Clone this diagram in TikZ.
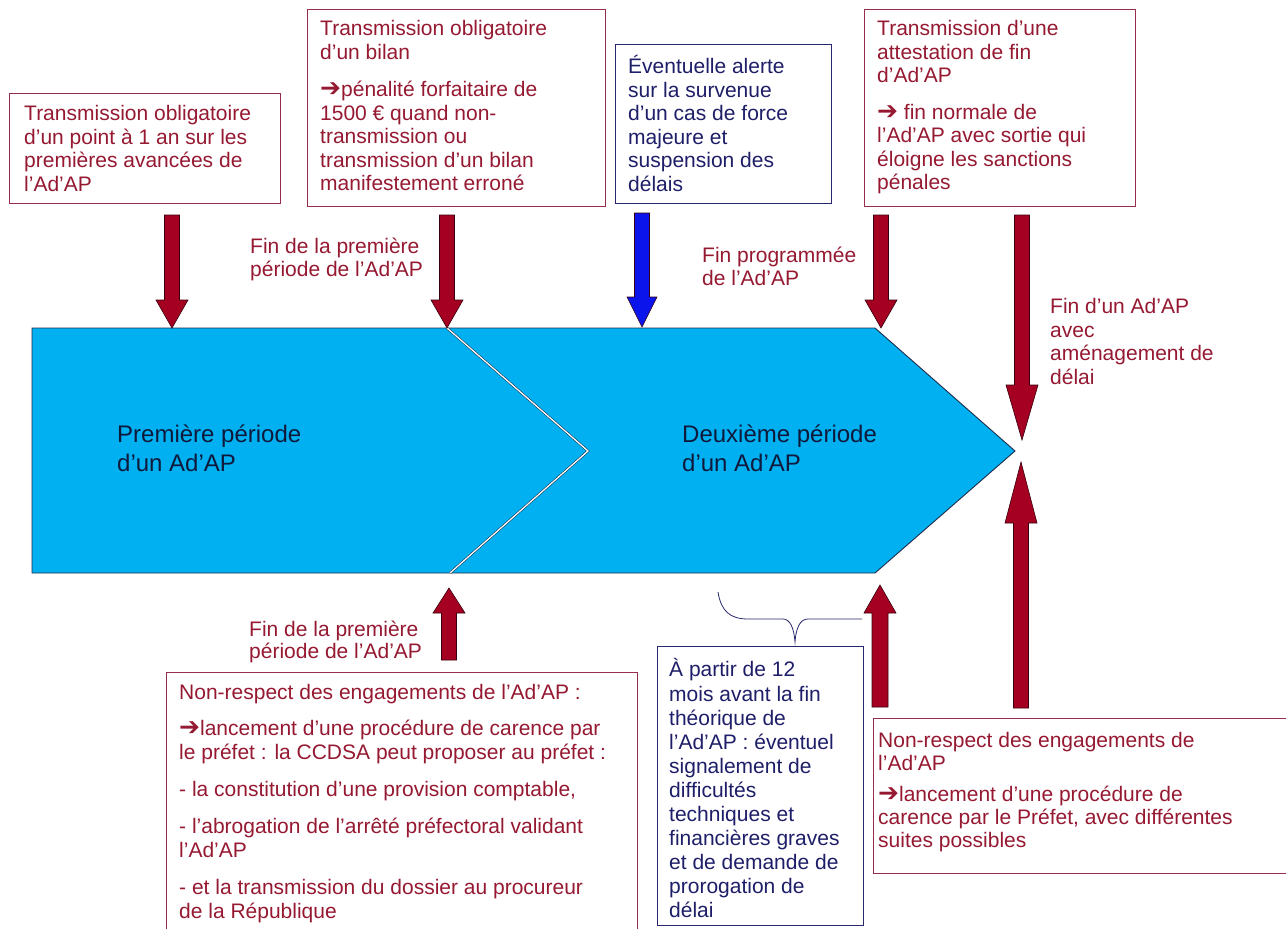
\documentclass[tikz,border=0pt]{standalone}
\usepackage{fontspec}
\setmainfont{Liberation Sans}
\newfontfamily\arrowfont{DejaVu Sans}
\definecolor{boxred}{RGB}{150,45,75}
\definecolor{txtred}{RGB}{150,25,50}
\definecolor{arrred}{RGB}{165,0,33}
\definecolor{arrline}{RGB}{55,0,12}
\definecolor{arrblue}{RGB}{10,20,235}
\definecolor{pentblue}{RGB}{0,176,240}
\definecolor{pentline}{RGB}{30,45,75}
\definecolor{txtblue}{RGB}{30,30,105}
\definecolor{boxblue}{RGB}{40,40,110}
\definecolor{penttxt}{RGB}{15,25,60}
\newcommand\rarr{{\arrowfont\fontsize{25}{20}\selectfont ➔}}
\newcommand\vblockarrow[7]{%
  \filldraw[fill=#7, draw=arrline, line width=0.6pt]
    ({#1-#5},#2) -- ({#1+#5},#2) -- ({#1+#5},#3) -- ({#1+#6},#3) -- (#1,#4)
    -- ({#1-#6},#3) -- ({#1-#5},#3) -- cycle;}
\begin{document}
\begin{tikzpicture}[x=1pt,y=-1pt,
  frame/.style={anchor=north west, inner sep=0pt, line width=1.1pt},
  redbox/.style={frame, draw=boxred},
  bluebox/.style={frame, draw=boxblue},
  txt/.style={anchor=north west, inner sep=0pt, align=left, font=\fontsize{21}{23.5}\selectfont},
  redtxt/.style={txt, text=txtred},
  bluetxt/.style={txt, text=txtblue},
  bigtxt/.style={anchor=north west, inner sep=0pt, align=left, text=penttxt, font=\fontsize{24}{29}\selectfont}]
\useasboundingbox[fill=white] (0,0) rectangle (1286,929);

% timeline pentagon
\filldraw[fill=pentblue, draw=pentline, line width=0.9pt]
  (32,328) coordinate (pTL) -- (875,328) coordinate (pTR) -- (1015,451) coordinate (pTip)
  -- (875,573) coordinate (pBR) -- (32,573) coordinate (pBL) -- cycle;
\draw[draw=pentline!80!black, line width=0.5pt, double=white, double distance=1.3pt]
  (447,328) coordinate (cTop) -- (588,451) coordinate (cMid) -- (450,573) coordinate (cBot);
\node[bigtxt] (p1) at (117,424.5) {Première période\\d’un Ad’AP};
\node[bigtxt] (p2) at (682,424.5) {Deuxième période\\d’un Ad’AP};

% top boxes
\node[redbox, minimum width=271pt, minimum height=110pt] (b1) at (9,93) {};
\node[redtxt] (t1) at (24,105.5) {Transmission obligatoire\\d’un point à 1 an sur les\\premières avancées de\\l’Ad’AP};

\node[redbox, minimum width=298pt, minimum height=197pt] (b2) at (307,9) {};
\node[redtxt] (t2) at (320,20.5) {Transmission obligatoire\\d’un bilan\\[14pt]\rarr pénalité forfaitaire de\\1500 € quand non-\\transmission ou\\transmission d’un bilan\\manifestement erroné};

\node[bluebox, minimum width=216pt, minimum height=159pt] (b3) at (615,44) {};
\node[bluetxt] (t3) at (628,55.5) {Éventuelle alerte\\sur la survenue\\d’un cas de force\\majeure et\\suspension des\\délais};

\node[redbox, minimum width=271pt, minimum height=197pt] (b4) at (864,9) {};
\node[redtxt] (t4) at (877,20.5) {Transmission d’une\\attestation de fin\\d’Ad’AP\\[13pt]\rarr{} fin normale de\\l’Ad’AP avec sortie qui\\éloigne les sanctions\\pénales};

% top labels
\node[redtxt] (l1) at (250,237.5) {Fin de la première\\période de l’Ad’AP};
\node[redtxt] (l2) at (702,246.5) {Fin programmée\\de l’Ad’AP};
\node[redtxt] (l3) at (1050,298.5) {Fin d’un Ad’AP\\avec\\aménagement de\\délai};

% arrows
\vblockarrow{172}{215}{300}{328}{7.5}{16}{arrred}
\vblockarrow{447}{215}{300}{328}{7.5}{16}{arrred}
\vblockarrow{642}{213}{297}{327}{7.5}{15}{arrblue}
\vblockarrow{881}{215}{300}{328}{7.5}{16}{arrred}
\vblockarrow{1022}{215}{385}{440}{7.5}{16}{arrred}
\vblockarrow{1021}{708}{523}{462}{7.5}{16}{arrred}
\vblockarrow{449}{660}{613}{588}{7.5}{16}{arrred}
\vblockarrow{880}{707}{613}{585}{8}{16}{arrred}

% bottom label
\node[redtxt, font=\fontsize{21}{22.5}\selectfont] (l4) at (249,620.5) {Fin de la première\\période de l’Ad’AP};

% bottom-left box
\node[redbox, minimum width=471pt, minimum height=265pt] (b5) at (166,672) {};
\node[redtxt, font=\fontsize{21}{24}\selectfont] (t5) at (179,684.5) {Non-respect des engagements de l’Ad’AP :\\[12pt]\rarr lancement d’une procédure de carence par\\le préfet : la CCDSA peut proposer au préfet :\\[13pt]- la constitution d’une provision comptable,\\[13pt]- l’abrogation de l’arrêté préfectoral validant\\l’Ad’AP\\[13pt]- et la transmission du dossier au procureur\\de la République};

% brace
\draw[draw=boxblue, line width=0.8pt]
  (718,592) coordinate (brL) .. controls (721,611) and (730,619) .. (748,619) -- (783,619)
  .. controls (790,619) and (794,628) .. (795,642) coordinate (brM)
  .. controls (796,628) and (800,619) .. (808,619) -- (862,619) coordinate (brR);

% bottom-middle box
\node[bluebox, minimum width=206pt, minimum height=279pt] (b6) at (657,646) {};
\node[bluetxt, font=\fontsize{21}{24.1}\selectfont] (t6) at (669,658.5) {À partir de 12\\mois avant la fin\\théorique de\\l’Ad’AP : éventuel\\signalement de\\difficultés\\techniques et\\financières graves\\et de demande de\\prorogation de\\délai};

% bottom-right box
\node[redbox, minimum width=420pt, minimum height=155pt] (b7) at (873,718) {};
\node[redtxt, font=\fontsize{21}{23}\selectfont] (t7) at (878,732.5) {Non-respect des engagements de\\l’Ad’AP\\[8pt]\rarr lancement d’une procédure de\\carence par le Préfet, avec différentes\\suites possibles};
\end{tikzpicture}
\end{document}
